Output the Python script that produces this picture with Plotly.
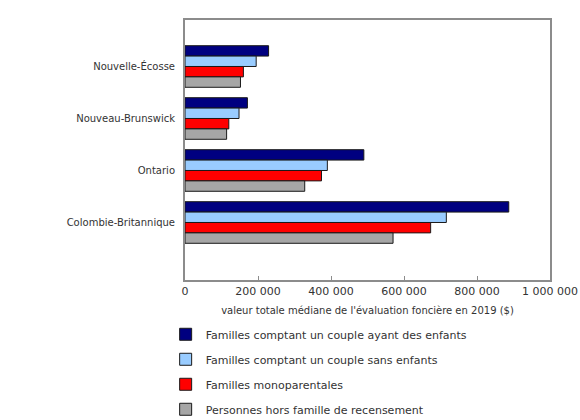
import plotly.graph_objects as go

provinces = ["Nouvelle-Écosse", "Nouveau-Brunswick", "Ontario", "Colombie-Britannique"]
series_names = [
    "Familles comptant un couple ayant des enfants",
    "Familles comptant un couple sans enfants",
    "Familles monoparentales",
    "Personnes hors famille de recensement",
]
couple_enfants = [229000, 171000, 490000, 887000]
couple_sans_enfants = [195000, 148000, 390000, 716000]
monoparentales = [160000, 120000, 374000, 673000]
hors_famille = [152000, 114000, 328000, 570000]
series_values = [couple_enfants, couple_sans_enfants, monoparentales, hors_famille]
colors = ["#000080", "#99CCFF", "#FF0000", "#A6A6A6"]
x_ticks = [0, 200000, 400000, 600000, 800000, 1000000]
x_tick_labels = ["0", "200 000", "400 000", "600 000", "800 000", "1 000 000"]

FONT = "DejaVu Sans, Verdana, sans-serif"

fig = go.Figure()
for i, (name, vals, col) in enumerate(zip(series_names, series_values, colors)):
    fig.add_trace(go.Bar(
        y=provinces, x=vals, name=name, orientation="h",
        marker=dict(color=col, line=dict(color="#1a1a1a", width=1)),
        legendgroup=str(i),
    ))

fig.update_layout(
    width=580, height=420,
    margin=dict(l=185, r=30, t=20, b=140, autoexpand=False),
    barmode="group", bargap=0.2, bargroupgap=0,
    plot_bgcolor="white", paper_bgcolor="white",
    font=dict(family=FONT, size=11, color="#333333"),
    showlegend=True,
    legend=dict(
        orientation="v", x=-0.053, xanchor="left", y=-0.553, yanchor="bottom",
        traceorder="grouped", tracegroupgap=6,
        font=dict(family=FONT, size=11, color="#333333"),
        bgcolor="rgba(0,0,0,0)",
    ),
    xaxis=dict(
        range=[0, 1000000], tickvals=x_ticks, ticktext=x_tick_labels,
        showgrid=False, zeroline=False,
        showline=True, linecolor="#8c8c8c", linewidth=2, mirror=True,
        ticks="inside", ticklen=4, tickcolor="#8c8c8c", tickwidth=1,
        title=dict(text="valeur totale médiane de l'évaluation foncière en 2019 ($)",
                   font=dict(size=10, color="#333333"), standoff=10),
        tickfont=dict(size=11, color="#333333"),
    ),
    yaxis=dict(
        categoryorder="array", categoryarray=provinces,
        range=[4.106, -0.894],
        showgrid=False, zeroline=False,
        showline=True, linecolor="#8c8c8c", linewidth=2, mirror=True,
        ticks="", ticklabelstandoff=6,
        tickfont=dict(size=10, color="#333333"),
    ),
)

fig.write_html("out.html")
